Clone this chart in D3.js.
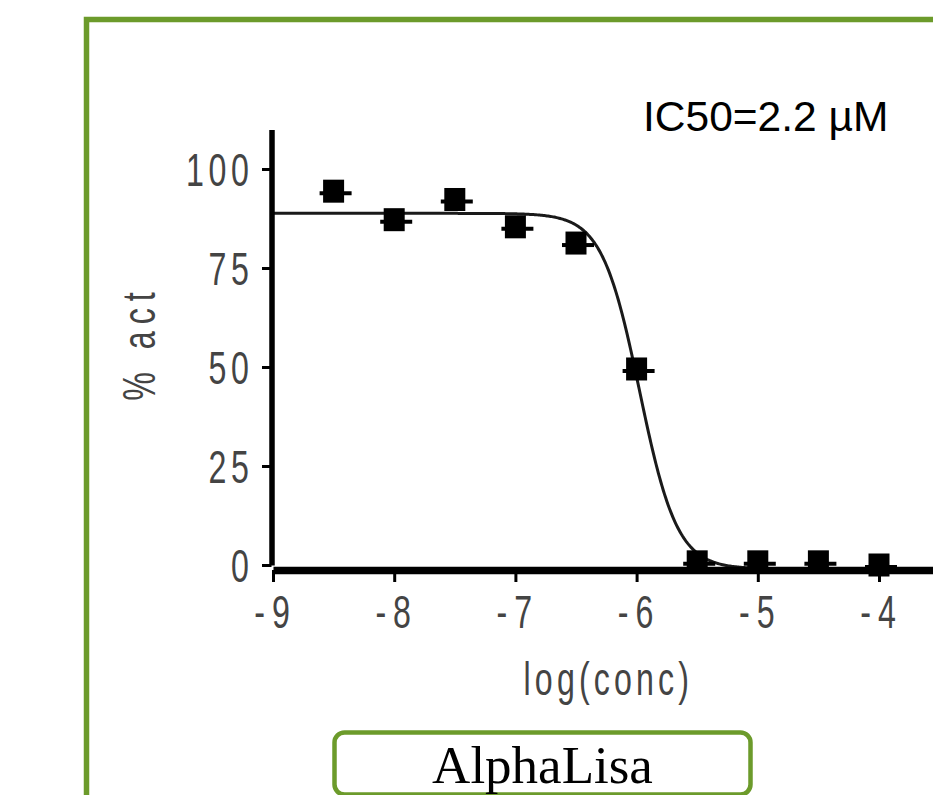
<!DOCTYPE html>
<html>
<head>
<meta charset="utf-8">
<script src="https://cdn.jsdelivr.net/npm/d3@7"></script>
<style>
  html, body { margin: 0; padding: 0; background: #fff; }
  svg { display: block; }
  .tick text, .axlabel { font-family: "Liberation Sans", Arial, sans-serif; fill: #444; }
</style>
</head>
<body>
<svg id="chart" width="933" height="795"></svg>
<script>
// ---- data ----
const logConc = [-8.5, -8, -7.5, -7, -6.5, -6, -5.5, -5, -4.5, -4];
const pctAct  = [94.4, 87.2, 92.3, 85.4, 81.3, 49.5, 0.8, 0.8, 0.8, 0.0];
const xTicks = [-9, -8, -7, -6, -5, -4];
const yTicks = [0, 25, 50, 75, 100];
// fitted curve parameters
const fitTop = 88.8, fitBottom = -1, fitLogIC50 = -5.975, fitHill = 2.8;
const curveRange = [-9, -4];
const ic50Label = "IC50=2.2 \u00B5M";
const assayLabel = "AlphaLisa";
const xTitle = "log(conc)";
const yTitle = "% act";

// ---- layout ----
const green = "#6c9b2b";
const sx = 0.7;           // horizontal squeeze of the axis font
const svg = d3.select("#chart");

// outer green frame
svg.append("rect")
  .attr("x", 86.5).attr("y", 19.5)
  .attr("width", 1000).attr("height", 1000)
  .attr("fill", "none").attr("stroke", green).attr("stroke-width", 5.5);

const x = d3.scaleLinear().domain([-9, -3.5]).range([273, 939.6]);
const y = d3.scaleLinear().domain([0, 110]).range([565, 129.4]);

// fitted curve
const curvePts = d3.range(curveRange[0], curveRange[1] + 0.0001, 0.01).map(v =>
  [v, fitBottom + (fitTop - fitBottom) / (1 + Math.pow(10, (v - fitLogIC50) * fitHill))]);
svg.append("path")
  .datum(curvePts)
  .attr("fill", "none")
  .attr("stroke", "#1a1a1a")
  .attr("stroke-width", 3)
  .attr("d", d3.line().x(d => x(d[0])).y(d => y(d[1])));

// data points: square + horizontal bar
const pts = svg.append("g").selectAll("g").data(logConc.map((c, i) => [c, pctAct[i]])).join("g")
  .attr("transform", d => `translate(${x(d[0])},${y(d[1])})`);
pts.append("line")
  .attr("x1", -14).attr("x2", 18).attr("y1", 2).attr("y2", 2)
  .attr("stroke", "#000").attr("stroke-width", 4);
pts.append("rect")
  .attr("x", -10.5).attr("y", -11.5).attr("width", 21).attr("height", 23)
  .attr("fill", "#000");

// y axis
const yLS = 6.6;
const yAxisG = svg.append("g").attr("transform", "translate(271.5,0)")
  .call(d3.axisLeft(y).tickValues(yTicks).tickSize(9.5).tickSizeOuter(0).tickFormat(d => String(d)));
yAxisG.select(".domain").attr("stroke", "#000").attr("stroke-width", 5.5);
yAxisG.selectAll(".tick line").attr("stroke", "#000").attr("stroke-width", 3);
yAxisG.selectAll(".tick text")
  .attr("font-size", 46).attr("x", null).attr("dy", "0.36em")
  .attr("letter-spacing", yLS)
  .attr("transform", `translate(${248 - 271.5 + yLS * sx + 1},0) scale(${sx},1)`);

// x axis
const xLS = 10;
const xAxisG = svg.append("g").attr("transform", "translate(0,570)")
  .call(d3.axisBottom(x).tickValues(xTicks).tickSize(12).tickSizeOuter(0).tickFormat(d => String(d)));
xAxisG.select(".domain").attr("stroke", "#000").attr("stroke-width", 7.5);
xAxisG.selectAll(".tick line").attr("stroke", "#000").attr("stroke-width", 3);
xAxisG.selectAll(".tick text")
  .attr("font-size", 46).attr("y", null).attr("dy", null)
  .attr("letter-spacing", xLS)
  .attr("transform", `translate(${xLS * sx / 2 - 1.5},58) scale(${sx},1)`);

// axis titles
const tLS = 5.9;
svg.append("text").attr("class", "axlabel")
  .attr("transform", `translate(${(x.range()[0] + x.range()[1]) / 2 + tLS * sx / 2},695) scale(${sx},1)`)
  .attr("text-anchor", "middle").attr("font-size", 46).attr("letter-spacing", tLS)
  .text(xTitle);
const yTLS = 10;
svg.append("text").attr("class", "axlabel")
  .attr("transform", `translate(155,346.5) rotate(-90) translate(${yTLS * sx / 2},0) scale(${sx},1)`)
  .attr("text-anchor", "middle").attr("font-size", 46).attr("letter-spacing", yTLS)
  .text(yTitle);

// IC50 annotation
svg.append("text")
  .attr("x", 643).attr("y", 131)
  .attr("font-family", "'Liberation Sans', Arial, sans-serif")
  .attr("font-size", 42.5).attr("fill", "#000")
  .text(ic50Label);

// assay label box
svg.append("rect")
  .attr("x", 334.5).attr("y", 732.5).attr("width", 416).attr("height", 62)
  .attr("rx", 10).attr("ry", 10)
  .attr("fill", "#fff").attr("stroke", green).attr("stroke-width", 4.5);
svg.append("text")
  .attr("x", 542.5).attr("y", 783)
  .attr("text-anchor", "middle")
  .attr("font-family", "'Liberation Serif', 'Times New Roman', serif")
  .attr("font-size", 53).attr("fill", "#000")
  .text(assayLabel);
</script>
</body>
</html>
